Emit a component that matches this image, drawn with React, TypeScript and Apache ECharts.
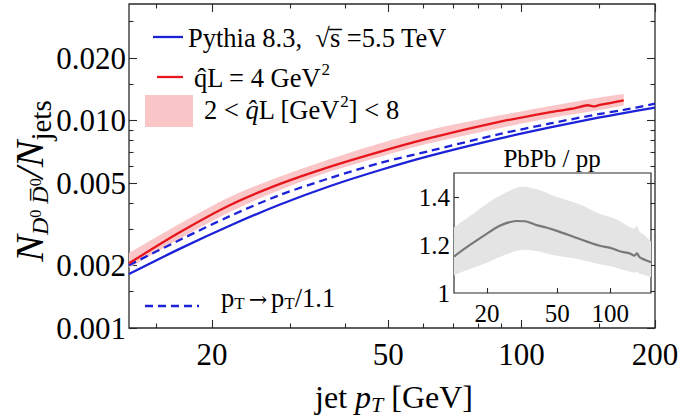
import React, { useEffect, useRef } from 'react';
import * as echarts from 'echarts';

// ---------------- data ----------------
const jetPt = [13, 17, 22, 28.5, 37, 48, 62, 89.5, 116, 150, 170, 200];
const pythiaPP = [0.00182, 0.00242, 0.00312, 0.00394, 0.00484, 0.00578, 0.00676, 0.00821, 0.00927, 0.01036, 0.01088, 0.01154];
const pythiaShifted = [0.00201, 0.00267, 0.00347, 0.00438, 0.00529, 0.00625, 0.00714, 0.00863, 0.00969, 0.01077, 0.01126, 0.01206];

const qhatPt = [13, 17, 22, 28.5, 37, 48, 62, 89.5, 116, 132, 141, 146, 150, 160, 170];
const qhat4 = [0.00205, 0.00291, 0.00392, 0.00495, 0.006, 0.00709, 0.00823, 0.00988, 0.01098, 0.01148, 0.01186, 0.01172, 0.0119, 0.0122, 0.01252];

const bandPt = [13, 17, 22, 28.5, 37, 48, 62, 89.5, 116, 150, 170];
const bandLow = [0.00195, 0.00271, 0.00364, 0.00463, 0.00568, 0.0067, 0.00778, 0.00922, 0.0103, 0.01126, 0.01184];
const bandHigh = [0.0023, 0.0032, 0.0043, 0.00537, 0.00653, 0.00778, 0.00902, 0.0106, 0.01177, 0.01294, 0.01345];

const ratioPt = [13, 15.3, 19.8, 23.6, 29.3, 33.4, 38.1, 43.4, 49.8, 67, 87, 100, 113, 128.7, 137.3, 141.5, 146.6, 156.4, 170];
const ratio = [1.152, 1.19, 1.245, 1.28, 1.3, 1.298, 1.283, 1.273, 1.259, 1.225, 1.197, 1.188, 1.174, 1.165, 1.156, 1.165, 1.149, 1.139, 1.128];
const ratioHigh = [1.273, 1.31, 1.37, 1.405, 1.438, 1.442, 1.432, 1.418, 1.4, 1.369, 1.33, 1.317, 1.3, 1.275, 1.27, 1.28, 1.255, 1.24, 1.215];
const ratioLow = [1.073, 1.095, 1.125, 1.15, 1.175, 1.18, 1.175, 1.165, 1.155, 1.14, 1.12, 1.112, 1.1, 1.09, 1.085, 1.088, 1.08, 1.075, 1.066];

const xMajorTicks = [20, 50, 100, 200];
const xMinorTicks = [15, 30, 40, 60, 70, 80, 90, 150];
const yMajorTicks = [0.001, 0.002, 0.005, 0.01, 0.02];
const yMinorTicks = [0.0015, 0.003, 0.004, 0.006, 0.007, 0.008, 0.009, 0.015, 0.03];
const insetXTicks = [20, 50, 100];
const insetYTicks = [1, 1.2, 1.4];

// ---------------- styling ----------------
const FONT = "'Liberation Serif', 'Times New Roman', Times, serif";
const FRAME = '#2a2a2a';
const BLUE = '#1c22d8';
const RED = '#e6161c';
const PINK = '#fac6c8';
const GRAY_LINE = '#787878';
const GRAY_BAND = '#e4e4e4';

const pairs = (xs: number[], ys: number[]) => xs.map((x, i) => [x, ys[i]]);

// Smooth (Catmull-Rom) path segments through pixel points, starting at pts[0]
function curveThrough(pts: number[][]): string {
  let d = '';
  const n = pts.length;
  for (let i = 0; i < n - 1; i++) {
    const p0 = pts[Math.max(0, i - 1)];
    const p1 = pts[i];
    const p2 = pts[i + 1];
    const p3 = pts[Math.min(n - 1, i + 2)];
    const c1x = p1[0] + (p2[0] - p0[0]) / 6;
    const c1y = p1[1] + (p2[1] - p0[1]) / 6;
    const c2x = p2[0] - (p3[0] - p1[0]) / 6;
    const c2y = p2[1] - (p3[1] - p1[1]) / 6;
    d += ` C${c1x.toFixed(2)},${c1y.toFixed(2)} ${c2x.toFixed(2)},${c2y.toFixed(2)} ${p2[0].toFixed(2)},${p2[1].toFixed(2)}`;
  }
  return d;
}

function bandRenderer(xs: number[], lo: number[], hi: number[], fill: string) {
  return (params: any, api: any) => {
    if (params.dataIndex !== 0) return null;
    const up = xs.map((x, i) => api.coord([x, hi[i]]));
    const dn = xs.map((x, i) => api.coord([x, lo[i]])).reverse();
    const d = `M${up[0][0].toFixed(2)},${up[0][1].toFixed(2)}` + curveThrough(up) +
      ` L${dn[0][0].toFixed(2)},${dn[0][1].toFixed(2)}` + curveThrough(dn) + ' Z';
    return { type: 'path', shape: { pathData: d }, style: { fill, stroke: null } };
  };
}

const tickLine = { color: FRAME, width: 1.1 };

function mainX(extra: any) {
  return {
    type: 'log', logBase: 10, gridIndex: 0, min: 13, max: 200,
    axisLine: { show: false }, splitLine: { show: false },
    minorTick: { show: false }, minorSplitLine: { show: false },
    axisLabel: { show: false },
    ...extra,
  };
}
function mainY(extra: any) {
  return {
    type: 'log', logBase: 10, gridIndex: 0, min: 0.001, max: 0.0365,
    axisLine: { show: false }, splitLine: { show: false },
    minorTick: { show: false }, minorSplitLine: { show: false },
    axisLabel: { show: false },
    ...extra,
  };
}

const majorTick = (vals: number[], len = 8) => ({ show: true, inside: true, length: len, customValues: vals, lineStyle: tickLine });

const txt = (size: number, italic = false, padding?: number[], family = FONT) => ({
  fontFamily: family, fontSize: size, fontStyle: italic ? 'italic' : 'normal',
  fill: '#000', color: '#000', ...(padding ? { padding } : {}),
});

function textEl(x: number, y: number, text: string, rich: any, align = 'left', rotation = 0) {
  return {
    type: 'text', x, y, rotation, z: 100,
    style: {
      text, rich, fill: '#000', fontFamily: FONT, fontSize: 26,
      align, textAlign: align, verticalAlign: 'middle', textVerticalAlign: 'middle',
    },
  };
}

const legendRich = {
  n: txt(26.5),
  i: txt(26.5, true),
  sup: txt(17, false, [0, 0, 18, 0]),
  sub: txt(17, false, [10, 0, 0, 0]),
  arr: txt(22, false, [2, 4, 0, 4], "'DejaVu Serif', serif"),
};

const option: any = {
  animation: false,
  backgroundColor: '#fff',
  grid: [
    { left: 129, top: 4, width: 526, height: 324, show: true, borderColor: FRAME, borderWidth: 1.3, backgroundColor: 'transparent', containLabel: false, outerBoundsMode: 'none' },
    { left: 454, top: 173, width: 197, height: 120, show: true, borderColor: FRAME, borderWidth: 1.2, backgroundColor: '#fff', containLabel: false, outerBoundsMode: 'none' },
  ],
  xAxis: [
    mainX({
      position: 'bottom', axisTick: majorTick(xMajorTicks),
      axisLabel: { show: true, customValues: xMajorTicks, margin: 11, color: '#000', fontFamily: FONT, fontSize: 31, formatter: (v: number) => String(Math.round(v)) },
    }),
    mainX({ position: 'bottom', axisTick: majorTick(xMinorTicks, 4.5) }),
    mainX({ position: 'top', axisTick: majorTick(xMajorTicks) }),
    mainX({ position: 'top', axisTick: majorTick(xMinorTicks, 4.5) }),
    {
      type: 'log', logBase: 10, gridIndex: 1, min: 13, max: 170, position: 'bottom',
      axisLine: { show: false }, splitLine: { show: false }, minorTick: { show: false },
      axisTick: majorTick(insetXTicks, 5),
      axisLabel: { show: true, customValues: insetXTicks, margin: 8, color: '#000', fontFamily: FONT, fontSize: 25, formatter: (v: number) => String(Math.round(v)) },
    },
  ],
  yAxis: [
    mainY({
      position: 'left', axisTick: majorTick(yMajorTicks),
      axisLabel: { show: true, customValues: yMajorTicks, margin: 3, color: '#000', fontFamily: FONT, fontSize: 31, formatter: (v: number) => v.toFixed(3) },
    }),
    mainY({ position: 'left', axisTick: majorTick(yMinorTicks, 4.5) }),
    mainY({ position: 'right', axisTick: majorTick(yMajorTicks) }),
    mainY({ position: 'right', axisTick: majorTick(yMinorTicks, 4.5) }),
    {
      type: 'value', gridIndex: 1, min: 1, max: 1.5, position: 'left',
      axisLine: { show: false }, splitLine: { show: false }, minorTick: { show: false },
      axisTick: majorTick([1.2, 1.4], 5),
      axisLabel: { show: true, customValues: insetYTicks, margin: 4, color: '#000', fontFamily: FONT, fontSize: 25, formatter: (v: number) => (Math.abs(v - 1) < 1e-9 ? '1' : v.toFixed(1)) },
    },
  ],
  series: [
    // main band 2 < qL < 8
    {
      type: 'custom', xAxisIndex: 0, yAxisIndex: 0, silent: true, z: 1,
      data: [[bandPt[0], bandLow[0]]],
      renderItem: bandRenderer(bandPt, bandLow, bandHigh, PINK),
    },
    // Pythia
    { type: 'line', xAxisIndex: 0, yAxisIndex: 0, data: pairs(jetPt, pythiaPP), symbol: 'none', showSymbol: false, smooth: 0.3, lineStyle: { color: BLUE, width: 2.3 }, silent: true, z: 3 },
    { type: 'line', xAxisIndex: 0, yAxisIndex: 0, data: pairs(jetPt, pythiaShifted), symbol: 'none', showSymbol: false, smooth: 0.3, lineStyle: { color: BLUE, width: 2.3, type: [8, 5] }, silent: true, z: 3 },
    // qL = 4
    { type: 'line', xAxisIndex: 0, yAxisIndex: 0, data: pairs(qhatPt, qhat4), symbol: 'none', showSymbol: false, smooth: 0.3, lineStyle: { color: RED, width: 2.3 }, silent: true, z: 4 },
    // inset band and ratio
    {
      type: 'custom', xAxisIndex: 4, yAxisIndex: 4, silent: true, z: 5,
      data: [[ratioPt[0], ratioLow[0]]],
      renderItem: bandRenderer(ratioPt, ratioLow, ratioHigh, GRAY_BAND),
    },
    { type: 'line', xAxisIndex: 4, yAxisIndex: 4, data: pairs(ratioPt, ratio), symbol: 'none', showSymbol: false, smooth: 0.3, lineStyle: { color: GRAY_LINE, width: 2.2 }, silent: true, z: 6 },
  ],
  graphic: [
    // legend
    { type: 'line', z: 100, shape: { x1: 153, y1: 37, x2: 183, y2: 37 }, style: { stroke: BLUE, lineWidth: 2.3 } },
    textEl(188, 37.5, '{n|Pythia 8.3,  \u221As\u0305 =5.5 TeV}', legendRich),
    { type: 'line', z: 100, shape: { x1: 157, y1: 77, x2: 183, y2: 77 }, style: { stroke: RED, lineWidth: 2.3 } },
    textEl(194, 78, '{n|q\u0302L = 4 GeV}{sup|2}', legendRich),
    { type: 'rect', z: 100, shape: { x: 145, y: 95, width: 48, height: 32 }, style: { fill: PINK } },
    textEl(204, 110, '{n|2 < }{i|q\u0302}{n|L [GeV}{sup|2}{n|] < 8}', legendRich),
    { type: 'line', z: 100, shape: { x1: 145, y1: 306, x2: 199, y2: 306 }, style: { stroke: BLUE, lineWidth: 2.3, lineDash: [8, 5] } },
    textEl(221, 298, '{n|p}{sub|T}{arr|\u2192}{n|p}{sub|T}{n|/1.1}', legendRich),
    // inset title
    textEl(552, 158, '{n|PbPb / pp}', { n: txt(25) }, 'center'),
    // x axis title
    textEl(394, 397, '{n|jet }{i|p}{s|T}{n| [GeV]}', { n: txt(32), i: txt(32, true), s: txt(22, true, [14, 0, 0, 0]) }, 'center'),
    // y axis title
    textEl(29.5, 181, '{i|N}{d|D}{z|0}{d| }{d|D\u0305}{z|0}{i|/N}{j|jets}', {
      i: txt(40, true),
      d: txt(24, true, [21, 0, 0, 0]),
      z: txt(16, false, [12, 0, 0, 0]),
      j: txt(29, false, [23, 0, 0, 0]),
    }, 'center', Math.PI / 2),
  ],
};

export default function App() {
  const ref = useRef<HTMLDivElement>(null);
  useEffect(() => {
    if (!ref.current) return;
    const chart = echarts.init(ref.current, null, { renderer: 'svg', width: 680, height: 417 });
    chart.setOption(option);
    return () => chart.dispose();
  }, []);
  return <div ref={ref} style={{ position: 'fixed', left: 0, top: 0, width: 680, height: 417, background: '#fff' }} />;
}
